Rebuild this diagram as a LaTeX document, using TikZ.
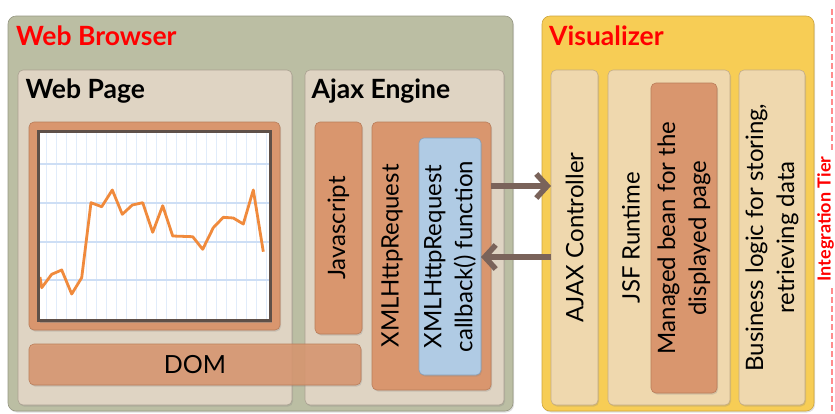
\documentclass[tikz,border=0pt]{standalone}
\usepackage{fontspec}
\setmainfont{Lato}
\usetikzlibrary{arrows.meta, shadows}

\definecolor{browserbg}{RGB}{187,190,163}
\definecolor{browserbd}{RGB}{150,151,130}
\definecolor{pagebg}{RGB}{223,212,195}
\definecolor{pagebd}{RGB}{170,160,145}
\definecolor{orangebg}{RGB}{217,150,110}
\definecolor{orangebd}{RGB}{185,125,90}
\definecolor{bluebg}{RGB}{176,203,228}
\definecolor{bluebd}{RGB}{135,160,185}
\definecolor{visbg}{RGB}{247,205,85}
\definecolor{visbd}{RGB}{205,165,60}
\definecolor{beigebg}{RGB}{239,216,174}
\definecolor{beigebd}{RGB}{195,172,135}
\definecolor{flowc}{RGB}{122,99,90}
\definecolor{framec}{RGB}{95,80,72}
\definecolor{gridmaj}{RGB}{205,222,245}
\definecolor{gridmin}{RGB}{225,236,250}
\definecolor{linec}{RGB}{240,138,60}
\definecolor{tierc}{RGB}{255,140,140}

\begin{document}
\begin{tikzpicture}[
  x=1pt, y=-1pt,
  box/.style = {draw, line width=0.6pt, rounded corners=5pt, inner sep=0pt, outer sep=0pt,
    anchor=north west, drop shadow={shadow xshift=1pt, shadow yshift=-1.5pt, opacity=0.25}},
  title/.style = {anchor=base west, inner sep=0pt, font=\fontsize{26.5}{30}\selectfont\bfseries},
  vtext/.style = {rotate=90, align=center, inner sep=0pt, font=\fontsize{24}{31}\selectfont},
  flow/.style = {line width=5.5pt, draw=flowc, -{Straight Barb[length=11pt, width=24pt]}}
]
  \useasboundingbox (0,0) rectangle (835,413);
  \clip (0,0) rectangle (835,413);

  % Web Browser container
  \node[box, fill=browserbg, draw=browserbd, rounded corners=8pt,
    minimum width=505pt, minimum height=395pt] (browser) at (8,16) {};
  \node[title, text=red] (browsertitle) at (16,45) {Web Browser};

  % Web Page and Ajax Engine panels
  \node[box, fill=pagebg, draw=pagebd, minimum width=274pt, minimum height=335pt] (page) at (18,70) {};
  \node[title] (pagetitle) at (25.5,98) {Web Page};
  \node[box, fill=pagebg, draw=pagebd, minimum width=199pt, minimum height=335pt] (engine) at (305,70) {};
  \node[title] (enginetitle) at (311.5,98) {Ajax Engine};

  % Chart on the web page
  \node[box, fill=orangebg, draw=orangebd, minimum width=251pt, minimum height=208pt] (chart) at (29,122) {};
  \fill[white, drop shadow={shadow xshift=1.5pt, shadow yshift=-2pt, opacity=0.45}]
    (38.5,131.5) rectangle (270.5,320.5);
  \foreach \gx in {46,56,...,266}
    \draw[gridmin, line width=0.9pt] (\gx,132) -- (\gx,320);
  \foreach \gy in {164,203,242,280}
    \draw[gridmaj, line width=1.2pt] (39,\gy) -- (270,\gy);
  \draw[linec, line width=2.8pt, line join=round] plot coordinates {
    (40,277) (41.7,287.7) (51.7,274.3) (61.7,270) (71.7,294) (81.7,277.7)
    (91,202.7) (101.7,206.7) (112.3,190) (122.3,214.3) (132.3,205) (142.7,202.7)
    (152.7,232.3) (162.7,205.7) (172.7,236) (192.7,236.7) (202.7,249.3)
    (213.3,227.7) (223.3,217.3) (233.3,218) (243.3,224) (253.3,190) (263.3,251.7)};
  \draw[framec, line width=3pt] (38.5,131.5) rectangle (270.5,320.5);

  % Ajax Engine parts
  \node[box, fill=orangebg, draw=orangebd, minimum width=47pt, minimum height=212pt] (js) at (315,122) {};
  \node[vtext] (jslabel) at (js) {Javascript};
  \node[box, fill=orangebg, draw=orangebd, minimum width=119pt, minimum height=268pt] (xhr) at (372,122) {};
  \node[vtext] (xhrlabel) at (392,256) {XMLHttpRequest};
  \node[box, fill=bluebg, draw=bluebd, minimum width=62pt, minimum height=237pt] (callback) at (419,138) {};
  \node[vtext] (callbacklabel) at (callback) {XMLHttpRequest\\callback() function};

  % DOM across both panels
  \node[box, fill=orangebg, draw=orangebd, fill opacity=0.85,
    minimum width=332pt, minimum height=41pt] (dom) at (29,344) {};
  \node[inner sep=0pt, font=\fontsize{25}{30}\selectfont] (domlabel) at (dom) {DOM};

  % Visualizer container
  \node[box, fill=visbg, draw=visbd, rounded corners=8pt,
    minimum width=272pt, minimum height=395pt] (vis) at (542,16) {};
  \node[title, text=red] (vistitle) at (549,45) {Visualizer};
  \node[box, fill=beigebg, draw=beigebd, minimum width=47pt, minimum height=335pt] (ajaxctl) at (551,70) {};
  \node[vtext] (ajaxctllabel) at (ajaxctl) {AJAX Controller};
  \node[box, fill=beigebg, draw=beigebd, minimum width=122pt, minimum height=335pt] (jsf) at (608,70) {};
  \node[vtext] (jsflabel) at (631,237.5) {JSF Runtime};
  \node[box, fill=orangebg, draw=orangebd, minimum width=66pt, minimum height=310pt] (bean) at (651,83) {};
  \node[vtext] (beanlabel) at (bean) {Managed bean for the\\displayed page};
  \node[box, fill=beigebg, draw=beigebd, minimum width=66pt, minimum height=335pt] (logic) at (739,70) {};
  \node[vtext] (logiclabel) at (logic) {Business logic for storing,\\retrieving data};

  % Request and response
  \coordinate (req) at (0,186);
  \coordinate (resp) at (0,257);
  \draw[flow] (xhr.east |- req) -- (ajaxctl.west |- req);
  \draw[flow] (ajaxctl.west |- resp) -- (callback.east |- resp);

  % Integration tier boundary
  \draw[tierc, line width=1.5pt, dash pattern=on 6pt off 3pt] (832,9) -- (832,413);
  \node[rotate=90, anchor=base, fill=white, text=red, inner xsep=4pt, inner ysep=0pt,
    font=\fontsize{18}{22}\selectfont\bfseries] (tier) at (830.5,219) {Integration Tier};
\end{tikzpicture}
\end{document}
